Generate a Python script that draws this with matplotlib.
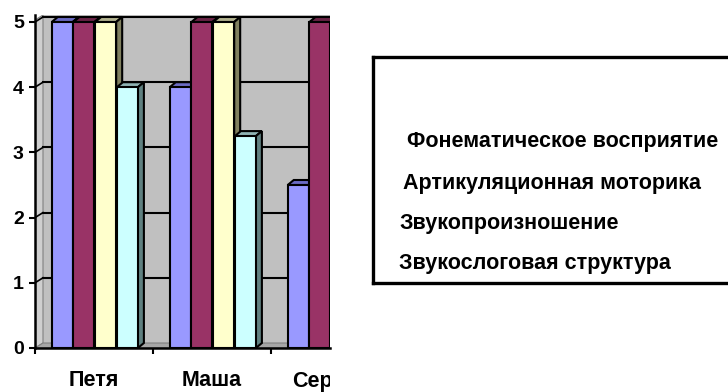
import matplotlib
matplotlib.use("Agg")
import matplotlib.pyplot as plt
import numpy as np
from matplotlib.patches import Polygon, Rectangle

# ---- data ----
categories = ["Петя", "Маша", "Сергей"]
series_names = ["Фонематическое восприятие", "Артикуляционная моторика",
                "Звукопроизношение", "Звукослоговая структура"]
fonem = [5, 4, 2.5]
artic = [5, 5, 5]
zvukopr = [5, 5, np.nan]      # hidden in the cropped reference
zvukosl = [4, 3.25, np.nan]   # hidden in the cropped reference
series_values = [fonem, artic, zvukopr, zvukosl]
yticks = [0, 1, 2, 3, 4, 5]

front_colors = ["#9999FF", "#993366", "#FFFFCC", "#CCFFFF"]
top_colors = ["#6B6BC4", "#6B2447", "#B3B38F", "#8FB3B3"]
side_colors = ["#5C5C99", "#5C1F3D", "#80805F", "#5F8080"]

FONT = ["Liberation Sans", "DejaVu Sans"]

W, H = 728, 392
fig = plt.figure(figsize=(W / 100, H / 100), dpi=100)
fig.patch.set_facecolor("white")

# axes placement (pixels)
L, R, B, T = 35, 330, 348, 15
ax = fig.add_axes([L / W, (H - B) / H, (R - L) / W, (B - T) / H])
xpx = 118.0                      # pixels per category
ypx = (B - 22) / 5.0             # pixels per unit
xmax = (R - L) / xpx
ymax = (B - T) / ypx
ax.set_xlim(0, xmax)
ax.set_ylim(0, ymax)
ax.set_facecolor("white")

# depth offsets (data units)
wdx, wdy = 8 / xpx, 5 / ypx
bdx, bdy = 6 / xpx, 5 / ypx

# walls
ax.add_patch(Rectangle((wdx, wdy), xmax, ymax, facecolor="#C0C0C0", edgecolor="none", zorder=0))
ax.add_patch(Polygon([(0, 0), (0, ymax - wdy), (wdx, ymax), (wdx, wdy)],
                     closed=True, facecolor="#CFCFCF", edgecolor="#808080", lw=0.8, zorder=0.5))
ax.add_patch(Polygon([(0, 0), (xmax + 1, 0), (xmax + 1 + wdx, wdy), (wdx, wdy)],
                     closed=True, facecolor="#A6A6A6", edgecolor="#808080", lw=0.8, zorder=0.5))
for v in yticks[1:]:
    ax.plot([wdx, xmax + 1], [v + wdy, v + wdy], color="black", lw=1.5, zorder=1)
    ax.plot([0, wdx], [v, v + wdy], color="black", lw=1.2, zorder=1)

# bars
n = len(series_values)
start, step, width = 0.142, 0.184, 0.178
z = 2
for ci in range(len(categories)):
    for si in range(n):
        h = series_values[si][ci]
        if np.isnan(h):
            continue
        x0 = ci + start + si * step
        x1 = x0 + width
        ax.bar(x0, h, width=width, align="edge", color=front_colors[si],
               edgecolor="black", lw=1.5, zorder=z + 0.2)
        ax.add_patch(Polygon([(x0, h), (x1, h), (x1 + bdx, h + bdy), (x0 + bdx, h + bdy)],
                             closed=True, facecolor=top_colors[si], edgecolor="black",
                             lw=1.5, zorder=z))
        ax.add_patch(Polygon([(x1, 0), (x1, h), (x1 + bdx, h + bdy), (x1 + bdx, bdy)],
                             closed=True, facecolor=side_colors[si], edgecolor="black",
                             lw=1.5, zorder=z))
        z += 1

# spines and ticks
for s in ["top", "right"]:
    ax.spines[s].set_visible(False)
for s in ["left", "bottom"]:
    ax.spines[s].set_linewidth(1.8)
    ax.spines[s].set_zorder(50)
ax.set_yticks(yticks)
ax.set_yticklabels([str(t) for t in yticks], fontsize=14, fontweight="bold", family=FONT)
ax.tick_params(axis="y", direction="out", length=4, width=1.5, pad=4)
ax.set_xticks(range(len(categories)))
ax.set_xticklabels([])
ax.tick_params(axis="x", direction="out", length=4, width=1.5)

clip_rect = Rectangle((0, 0), R / W, 1, transform=fig.transFigure, visible=False)
fig.add_artist(clip_rect)
for i, c in enumerate(categories):
    t = ax.text(i + 0.5, -(381 - B) / (B - T), c, transform=ax.get_xaxis_transform(),
                ha="center", va="center", fontsize=15.5, fontweight="bold",
                family=FONT)
    t.set_clip_path(clip_rect)
    t.set_clip_on(True)

# legend box (text only, cropped at right): a frame axes running past the right edge
bx0, by0, by1 = 373, 57, 283
lax = fig.add_axes([bx0 / W, (H - by1) / H, (W + 60 - bx0) / W, (by1 - by0) / H])
lax.set_xticks([])
lax.set_yticks([])
lax.spines["right"].set_visible(False)
for s in ["left", "top", "bottom"]:
    lax.spines[s].set_linewidth(2.4)
lax.patch.set_facecolor("white")

leg_x = [407, 403, 399, 399]
leg_y = [142, 183, 223, 264]
for name, lx, ly in zip(series_names, leg_x, leg_y):
    fig.text(lx / W, (H - ly) / H, name, ha="left", va="center",
             fontsize=15.5, fontweight="bold", family=FONT, zorder=5)

fig.savefig("out.png", dpi=100)
